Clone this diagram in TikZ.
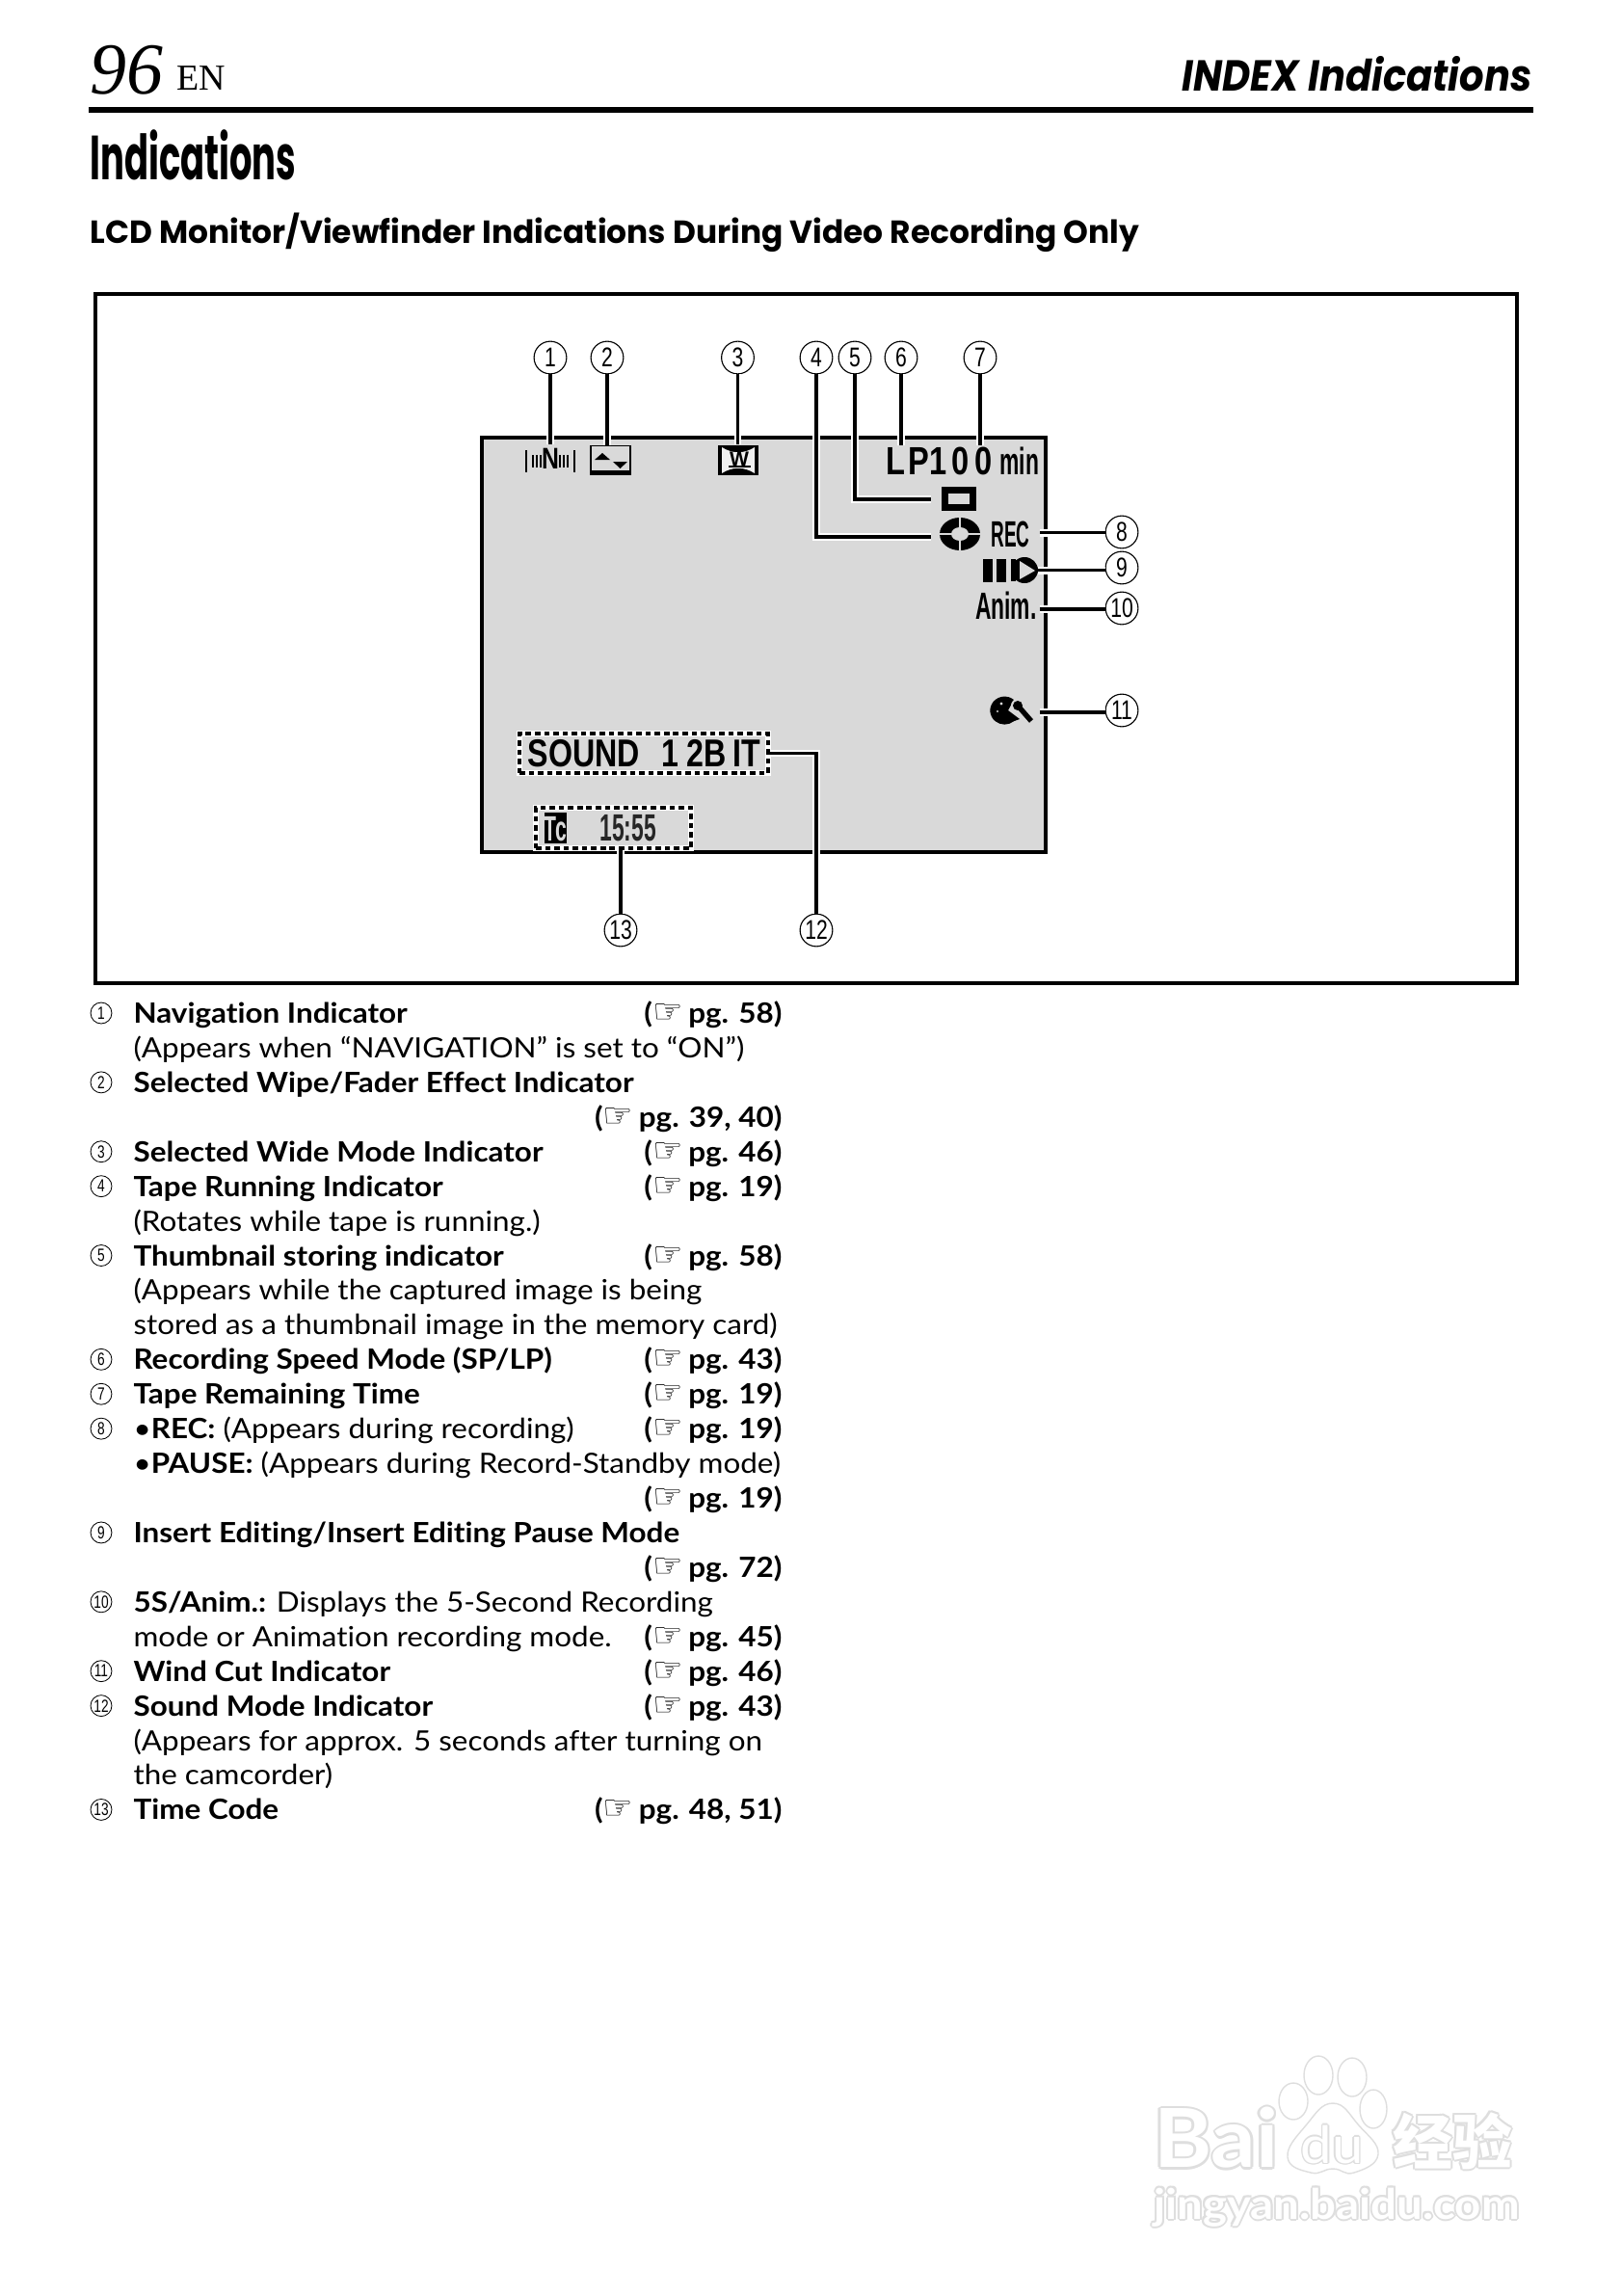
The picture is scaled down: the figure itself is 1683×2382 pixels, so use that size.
\documentclass[tikz,border=0pt]{standalone}
\usepackage{fontspec}
\usepackage{tikz}
\usetikzlibrary{positioning, shapes.geometric, calc}
\setmainfont[FakeStretch=1.085, Ligatures=NoCommon]{Lato}
\newfontfamily\handfont{DejaVu Sans}
\newfontfamily\headfont[FakeStretch=0.99]{Poppins}
\newfontfamily\indexfont[FakeStretch=0.89]{Poppins}
\newfontfamily\titlefont[FakeStretch=0.57]{Poppins}
\newfontfamily\pagefont{Liberation Serif}
\newfontfamily\lcdfont[FakeStretch=0.8]{Liberation Sans}
\newfontfamily\lcdnarrow[FakeStretch=0.58]{Liberation Sans}
\newfontfamily\lcdslim[FakeStretch=0.5]{Liberation Sans}
\newfontfamily\numfont[FakeStretch=0.75]{Liberation Sans}
\newfontfamily\wfont{Liberation Sans}
\newfontfamily\cjkfont{Noto Sans CJK SC}
\definecolor{lcdgray}{RGB}{217, 217, 217}
\definecolor{markgray}{RGB}{222, 222, 222}
\newcommand{\pgref}[1]{\textbf{(}{\handfont\fontsize{12.5}{10}\selectfont ☞}\hspace{2pt}\textbf{pg. #1)}}
\tikzset{
  lcdtext/.style={inner sep=0, font=\lcdfont\bfseries\fontsize{#1}{#1}\selectfont},
  lcdthin/.style={inner sep=0, font=\lcdnarrow\bfseries\fontsize{#1}{#1}\selectfont},
  callout/.style={draw, circle, line width=0.4pt, minimum size=12pt, inner sep=0, fill=white,
    font=\numfont\fontsize{10}{10}\selectfont},
  leader/.style={line width=1.25pt, preaction={draw=white, line width=2.8pt}},
  dashbox/.style={draw, line width=1.3pt, dash pattern=on 2pt off 1.4pt, inner sep=0,
    preaction={draw=white, solid, line width=2.4pt}},
  itemnum/.style={draw, circle, line width=0.3pt, minimum size=7.8pt, inner sep=0,
    font=\numfont\fontsize{6.5}{6.5}\selectfont},
  rowtext/.style={anchor=base west, inner sep=0, font=\fontsize{10.3}{10.3}\selectfont},
  rowref/.style={anchor=base east, inner sep=0, font=\fontsize{10.3}{10.3}\selectfont},
  wmtoe/.style={draw=markgray, line width=0.5pt, fill=white}
}
\begin{document}
\begin{tikzpicture}[x=0.0125cm, y=-0.0125cm, font=\small]
  \useasboundingbox (0,0) rectangle (1683,2382);
  % Header
  \node[anchor=base west, inner sep=0, font=\pagefont\itshape\fontsize{27}{27}\selectfont] (pagenum) at (93,97) {96};
  \node[anchor=base west, inner sep=0, font=\pagefont\fontsize{13.5}{14}\selectfont] (pagelang) at (183,93) {EN};
  \node[anchor=base east, inner sep=0, font=\indexfont\bfseries\itshape\fontsize{16}{16}\selectfont] (pagehead) at (1590,95) {INDEX Indications};
  \draw[line width=2.1pt] (92,114) -- (1591,114);
  \node[anchor=base west, inner sep=0, font=\titlefont\bfseries\fontsize{23}{23}\selectfont] (title) at (93,186) {Indications};
  \node[anchor=base west, inner sep=0, font=\headfont\bfseries\fontsize{11.8}{12}\selectfont] (subtitle) at (93,252) {LCD Monitor/Viewfinder Indications During Video Recording Only};
  % Frame and screen
  \draw[line width=1.6pt] (99,305) rectangle (1574,1020);
  \draw[fill=lcdgray, line width=1.2pt] (500,454) rectangle (1085,884);
  % Icons on the screen
  \node[inner sep=0, minimum width=50*0.3557pt, minimum height=28*0.3557pt, lcdtext=11] (navicon) at (571,476) {N};
  \foreach \x in {546,596}{
    \draw[line width=0.5pt] (\x,467) -- (\x,490);
  }
  \foreach \x in {553,557,561,581,585,589}{
    \draw[line width=0.5pt] (\x,472) -- (\x,485);
  }
  \node[draw, fill=lcdgray, line width=0.6pt, minimum width=41*0.3557pt, minimum height=30*0.3557pt, inner sep=0] (wipeicon) at (633.5,477.5) {};
  \fill (612,488) rectangle (655,493);
  \fill (617,477) -- (633,477) -- (625,470) -- cycle;
  \fill (636,479) -- (651,479) -- (643.5,486) -- cycle;
  \node[fill, minimum width=42*0.3557pt, minimum height=31*0.3557pt, inner sep=0] (wideicon) at (766,477.5) {};
  \fill[lcdgray!40!white] (749,464) .. controls (760,471) and (772,471) .. (783,464) -- (783,491) .. controls (772,484) and (760,484) .. (749,491) -- cycle;
  \node[inner sep=0, font=\wfont\bfseries\fontsize{7.5}{8}\selectfont] (wideW) at (767,476.5) {W};
  \draw[line width=0.7pt] (756,484) -- (779,484);
  \node[lcdtext=14.5, anchor=base west] (speed) at (919,492) {L\hspace{1pt}P1};
  \node[lcdtext=14.5, anchor=base west] (remain) at (987,492) {0\hspace{2pt}0};
  \node[lcdthin=14, anchor=base west] (minutes) at (1037,492) {min};
  \node[draw, line width=2.4pt, minimum width=29*0.3557pt, minimum height=18*0.3557pt, inner sep=0] (storeicon) at (995,517.5) {};
  \node[ellipse, fill, minimum width=42*0.3557pt, minimum height=34*0.3557pt, inner sep=0] (tapeicon) at (996,554) {};
  \draw[lcdgray, line width=0.7pt] (975,554) -- (1017,554);
  \draw[lcdgray, line width=0.7pt] (996,537) -- (996,571);
  \node[ellipse, fill=lcdgray, minimum width=18*0.3557pt, minimum height=14*0.3557pt, inner sep=0] (tapehole) at (996,554) {};
  \node[inner sep=0, font=\lcdslim\bfseries\fontsize{13.5}{13.5}\selectfont, anchor=base east] (rec) at (1069,567) {REC};
  \fill (1020,580) rectangle (1030,604);
  \fill (1034,580) rectangle (1044,604);
  \fill (1063,591.5) ellipse [x radius=14, y radius=13.5];
  \fill[lcdgray] (1058,582) -- (1074,592) -- (1058,601) -- cycle;
  \fill (1049,580) -- (1054,580) -- (1054,603) -- (1049,603) -- cycle;
  \node[lcdthin=14, anchor=base east] (anim) at (1076,642) {Anim.};
  % Wind cut icon
  \fill (1052,726) arc (-50:-310:15 and 14.5) -- (1058,746) -- (1046,737) -- cycle;
  \fill[lcdgray] (1039,730) circle (1.7);
  \fill[lcdgray] (1035,738) circle (1.2);
  \draw[lcdgray, line width=3pt] (1056,732) -- (1070,748);
  \fill[lcdgray] (1056,732) circle (7);
  \fill (1056,732) circle (5);
  \draw[line width=1.9pt] (1056,732) -- (1070,748);
  % Boxed lines of text
  \node[dashbox, minimum width=258*0.3557pt, minimum height=41*0.3557pt] (soundbox) at (668,781.5) {};
  \node[lcdtext=14.3, anchor=base west] (soundtxt) at (547,795) {SOUND\hspace{8pt}1\hspace{3pt}2B\hspace{2.5pt}IT};
  \node[dashbox, minimum width=161*0.3557pt, minimum height=42*0.3557pt] (timebox) at (636.5,859) {};
  \node[fill, minimum width=23*0.3557pt, minimum height=32*0.3557pt, inner sep=0] (tcicon) at (576.5,859) {};
  \node[lcdthin=13, text=lcdgray] (tctext) at (576.5,860) {Tc};
  \node[lcdthin=14, anchor=base west, text=black!85] (timetxt) at (622,872) {15:55};
  % Callouts
  \foreach \n/\x/\y in {1/571/371, 2/630/371, 3/765.5/371, 4/847/371, 5/887/371, 6/935/371, 7/1017/371,
      8/1164/552, 9/1164/589, 10/1164/631, 11/1164/737, 12/847/965, 13/644/965}{
    \node[callout] (c\n) at (\x,\y) {\n};
  }
  % Leaders
  \coordinate (end4) at (966,557);
  \coordinate (end5) at (966,518);
  \coordinate (end8) at (1079,552.7);
  \coordinate (end9) at (1077,591.7);
  \coordinate (end10) at (1079,632);
  \coordinate (end11) at (1079,739);
  \draw[leader] (c1) -- (c1 |- navicon.north);
  \draw[leader] (c2) -- (c2 |- wipeicon.north);
  \draw[leader] (c3) -- (c3 |- wideicon.north);
  \draw[leader] (c4) |- (end4);
  \draw[leader] (c5) |- (end5);
  \draw[leader] (c6) -- (c6 |- wipeicon.north);
  \draw[leader] (c7) -- (c7 |- wipeicon.north);
  \draw[leader] (end8) -- (end8 -| c8.west);
  \draw[leader] (end9) -- (end9 -| c9.west);
  \draw[leader] (end10) -- (end10 -| c10.west);
  \draw[leader] (end11) -- (end11 -| c11.west);
  \draw[leader] (soundbox.east) -| (c12);
  \draw[leader] (c13) -- (c13 |- timebox.south);
  % Numbered list
  \foreach \i/\n in {1/1, 3/2, 5/3, 6/4, 8/5, 11/6, 12/7, 13/8, 16/9, 18/10, 20/11, 21/12, 24/13}{
    \pgfmathsetmacro{\ry}{1051+35.93*(\i-1)}
    \node[itemnum] (num\n) at (105,\ry) {\n};
  }
  \foreach \i/\txt in {
      1/{\textbf{Navigation Indicator}},
      2/{(Appears when “NAVIGATION” is set to “ON”)},
      3/{\textbf{Selected Wipe/Fader Effect Indicator}},
      5/{\textbf{Selected Wide Mode Indicator}},
      6/{\textbf{Tape Running Indicator}},
      7/{(Rotates while tape is running.)},
      8/{\textbf{Thumbnail storing indicator}},
      9/{(Appears while the captured image is being},
      10/{stored as a thumbnail image in the memory card)},
      11/{\textbf{Recording Speed Mode (SP/LP)}},
      12/{\textbf{Tape Remaining Time}},
      13/{•\textbf{REC:} (Appears during recording)},
      14/{•\textbf{PAUSE:} (Appears during Record-Standby mode)},
      16/{\textbf{Insert Editing/Insert Editing Pause Mode}},
      18/{\textbf{5S/Anim.:} Displays the 5-Second Recording},
      19/{mode or Animation recording mode.},
      20/{\textbf{Wind Cut Indicator}},
      21/{\textbf{Sound Mode Indicator}},
      22/{(Appears for approx. 5 seconds after turning on},
      23/{the camcorder)},
      24/{\textbf{Time Code}}}{
    \pgfmathsetmacro{\ry}{1061.5+35.93*(\i-1)}
    \node[rowtext] (row\i) at (138,\ry) {\txt};
  }
  \foreach \i/\pg in {1/58, 4/{39, 40}, 5/46, 6/19, 8/58, 11/43, 12/19, 13/19, 15/19, 17/72, 19/45, 20/46, 21/43, 24/{48, 51}}{
    \pgfmathsetmacro{\ry}{1061.5+35.93*(\i-1)}
    \node[rowref] (ref\i) at (812,\ry) {\pgref{\pg}};
  }
  % Watermark
  \foreach \x/\y/\rx/\ry in {1342/2180/15/19, 1368/2153/15/20, 1403/2155/15/20, 1425/2188/14/20}{
    \draw[wmtoe] (\x,\y) ellipse [x radius=\rx, y radius=\ry];
  }
  \draw[wmtoe] plot[smooth cycle, tension=0.8] coordinates {(1383,2182) (1410,2205) (1430,2235) (1405,2254) (1383,2250) (1360,2254) (1336,2238) (1355,2205)};
  \foreach \a in {0,45,...,315}{
    \node[inner sep=0, text=markgray, font=\bfseries\fontsize{30}{30}\selectfont] (wmbai\a) at ($(1262,2218)+(\a:2.5)$) {Bai};
    \node[inner sep=0, text=markgray, font=\fontsize{19}{19}\selectfont] (wmdu\a) at ($(1382,2225)+(\a:1.5)$) {du};
    \node[inner sep=0, text=markgray, font=\cjkfont\bfseries\fontsize{22}{22}\selectfont] (wmcjk\a) at ($(1507,2221)+(\a:2)$) {经验};
    \node[inner sep=0, text=markgray, font=\bfseries\fontsize{15.5}{15.5}\selectfont] (wmurl\a) at ($(1387,2290)+(\a:2)$) {jingyan.baidu.com};
  }
  \node[inner sep=0, text=white, font=\bfseries\fontsize{30}{30}\selectfont] (wmbaitop) at (1262,2218) {Bai};
  \node[inner sep=0, text=white, font=\fontsize{19}{19}\selectfont] (wmdutop) at (1382,2225) {du};
  \node[inner sep=0, text=white, font=\cjkfont\bfseries\fontsize{22}{22}\selectfont] (wmcjktop) at (1507,2221) {经验};
  \node[inner sep=0, text=white, font=\bfseries\fontsize{15.5}{15.5}\selectfont] (wmurltop) at (1387,2290) {jingyan.baidu.com};
\end{tikzpicture}
\end{document}
